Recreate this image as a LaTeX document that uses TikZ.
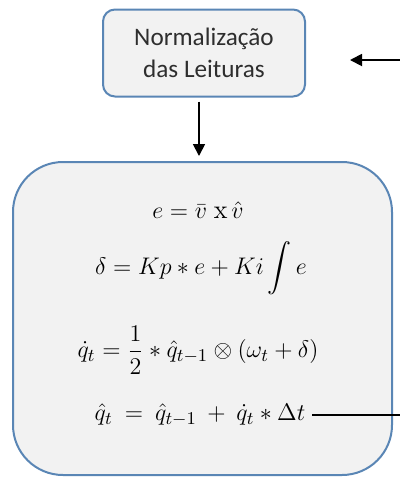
\documentclass[tikz,border=0pt]{standalone}
\usepackage{fontspec}
\usepackage{amsmath}
\usepackage{xcolor}
\usetikzlibrary{
    positioning,
    calc,
    arrows.meta
}
\newfontfamily\caixafont{Carlito}
\definecolor{AzulBorda}{HTML}{5A86B5}
\definecolor{CinzaFundo}{HTML}{F2F2F2}
\definecolor{CinzaTexto}{HTML}{2E2E2E}

\tikzset{
    caixa/.style={
        draw=AzulBorda,
        fill=CinzaFundo,
        line width=1pt
    },
    seta/.style={
        line width=0.9pt,
        -{Triangle[length=6pt,width=6pt]}
    },
    equacao/.style={
        font=\fontsize{13.2}{16}\selectfont,
        anchor=center
    }
}

\begin{document}
\begin{tikzpicture}
    \useasboundingbox (0pt,0pt) rectangle (200pt,-239pt);

            % caixa de normalizacao
            \node[
                caixa,
                rounded corners=6pt,
                minimum width=101pt,
                minimum height=43.5pt,
                align=center,
                text=CinzaTexto,
                font=\caixafont\fontsize{12.6}{16}\selectfont
            ] (norm) at (102pt,-26.5pt) {
                Normalização\\das Leituras
            };

            % caixa do filtro
            \node[
                caixa,
                rounded corners=25pt,
                minimum width=189.5pt,
                minimum height=156.5pt
            ] (filtro) at (101.25pt,-159.25pt) {};

            \node[equacao] (eqerro) at (99pt,-105pt)
                {$e = \bar{v}\;\mathrm{x}\,\hat{v}$};
            \node[equacao] (eqdelta) at (100.5pt,-134pt)
                {$\displaystyle \delta = Kp \ast e + Ki \int e$};
            \node[equacao] (eqqdot) at (99pt,-175pt)
                {$\displaystyle \dot{q}_t = \frac{1}{2} \ast \hat{q}_{t-1} \otimes (\omega_t + \delta)$};
            \node[equacao] (eqqhat) at (100pt,-207.5pt)
                {$\hat{q}_t \:=\: \hat{q}_{t-1} \:+\: \dot{q}_t \ast \Delta t$};

            % conexoes
            \coordinate (retorno) at (200pt,-30pt);
            \coordinate (retornofim) at (175pt,-30pt);
            \coordinate (saida) at (200pt,-207.5pt);

            \draw[seta] ([xshift=-2.5pt,yshift=-2pt]norm.south)
                -- ([xshift=-2.5pt,yshift=2.5pt]norm.south |- filtro.north);
            \draw[seta] (retorno) -- (retornofim);
            \draw[line width=0.9pt] (eqqhat.east) -- (saida);

\end{tikzpicture}
\end{document}
